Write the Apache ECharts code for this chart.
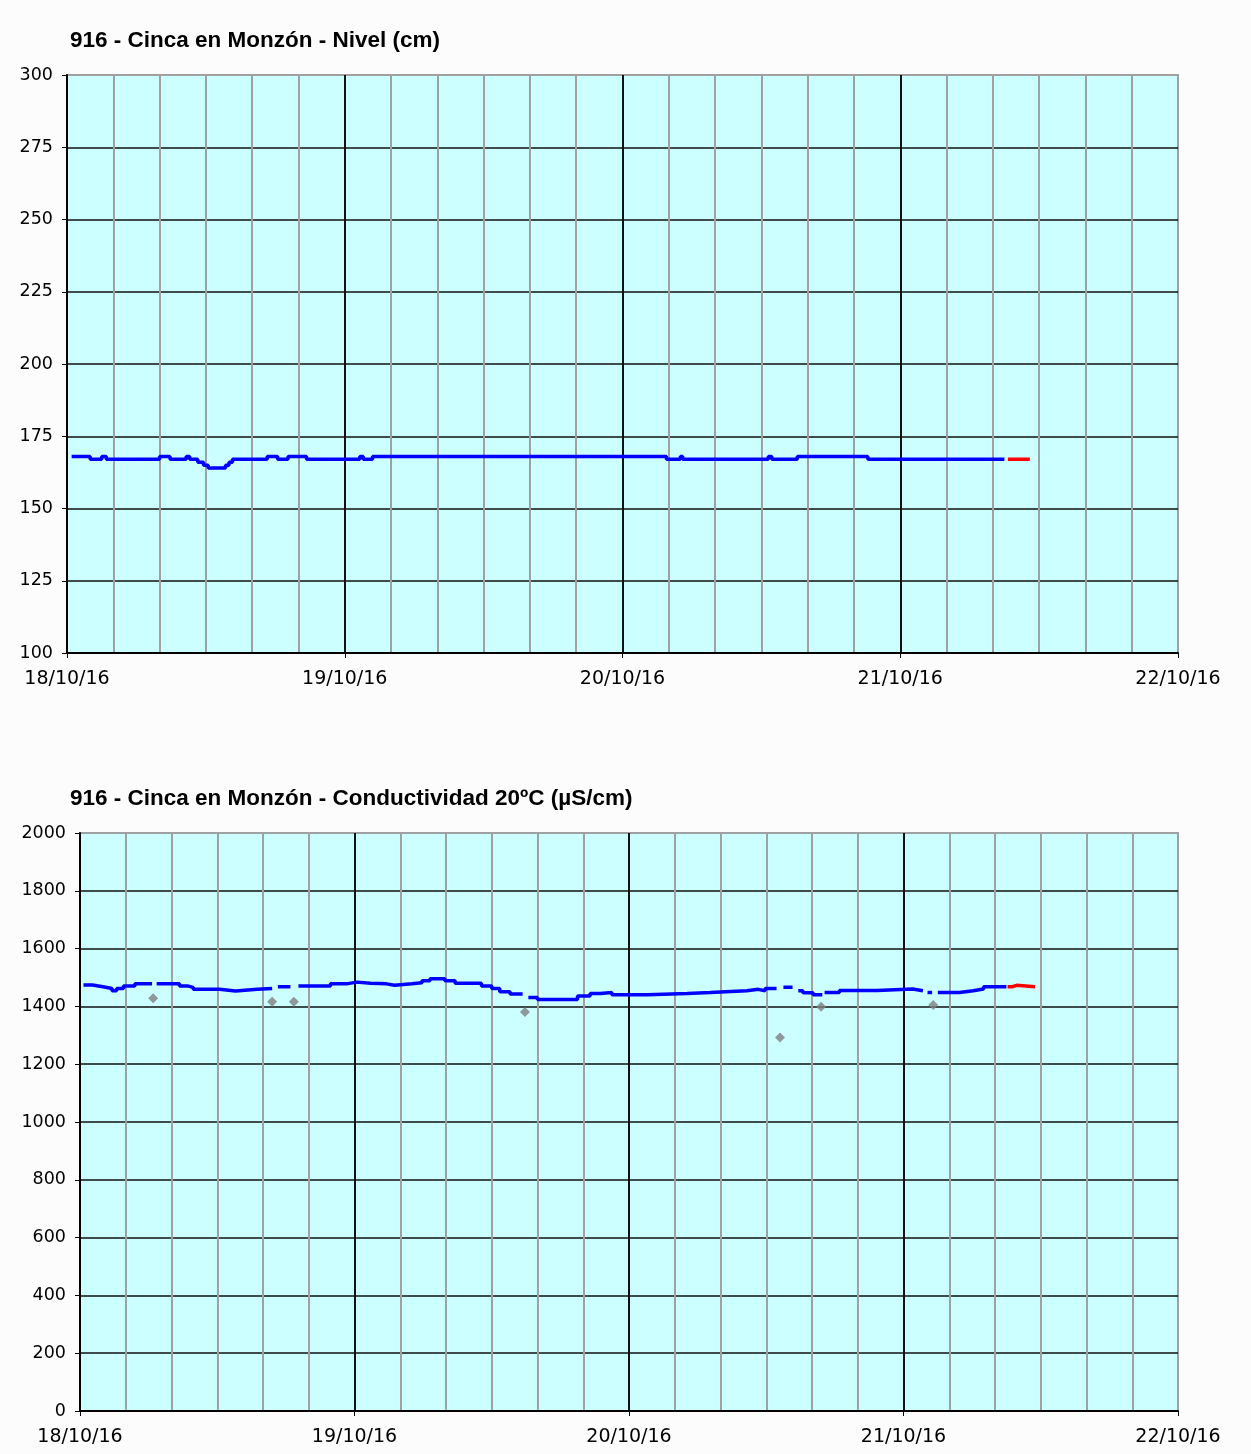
<!DOCTYPE html>
<html>
<head>
<meta charset="utf-8">
<script src="https://cdn.jsdelivr.net/npm/echarts@6/dist/echarts.min.js"></script>
<style>
  html, body { margin: 0; padding: 0; background: #fcfcfc; }
  #chart { width: 1251px; height: 1454px; }
</style>
</head>
<body>
<div id="chart"></div>
<script>
// x is hours since 18/10/16 00:00
var dayLabels = ['18/10/16', '19/10/16', '20/10/16', '21/10/16', '22/10/16'];

// Nivel (cm): value holds from each hour until the next one
var nivelHours  = [0.4, 2.0, 3.0, 3.4, 8.0, 8.9, 10.3, 10.6, 11.3, 11.8, 12.2, 13.7, 14.0, 14.3,
                   17.3, 18.2, 19.1, 20.7, 25.3, 25.6, 26.4, 51.8, 53.0, 53.2, 60.6, 60.9, 63.1, 69.2, 81.0];
var nivelValues = [168, 167, 168, 167, 168, 167, 168, 167, 166, 165, 164, 165, 166, 167,
                   168, 167, 168, 167, 168, 167, 168, 167, 168, 167, 168, 167, 168, 167, 167];
var nivelPredHours  = [81.3, 83.2];
var nivelPredValues = [167, 167];

// Conductividad 20ºC (µS/cm): null = no valid data
var condHours  = [0.3, 1.1, 2.0, 2.8, 3.2, 3.8, 4.8, 6.3, 6.7, 8.7, 9.4, 9.9, 12.2, 13.6, 15.5, 16.8,
                  17.3, 18.4, 19.1, 21.9, 23.3, 24.2, 25.4, 26.8, 27.5, 29.0, 29.9, 30.6, 31.9, 32.8,
                  35.1, 36.0, 36.7, 37.6, 38.7, 39.2, 40.0, 43.5, 44.6, 45.5, 46.5, 49.6, 53.1, 55.1,
                  58.3, 59.3, 59.9, 60.9, 61.5, 62.3, 62.8, 63.2, 64.1, 64.9, 65.1, 66.4, 69.7, 72.8,
                  73.7, 74.1, 74.5, 75.0, 76.9, 78.1, 79.0, 81.0];
var condValues = [1474, 1468, 1462, 1454, 1462, 1471, 1478, null, 1478, 1471, 1466, 1459, 1453, 1459, 1462, null,
                  1468, null, 1471, 1478, 1484, 1480, 1478, 1473, 1478, 1482, 1489, 1496, 1489, 1480,
                  1471, 1462, 1451, 1443, null, 1431, 1424, 1436, 1445, 1448, 1440, 1445, 1448, 1454,
                  1459, 1454, 1462, null, 1466, null, 1454, 1447, 1440, null, 1448, 1455, 1460, 1454,
                  null, 1448, null, 1448, 1454, 1460, 1468, 1468];
var condPredHours  = [81.1, 81.5, 81.9, 83.5];
var condPredValues = [1468, 1473, 1468, 1468];
var condFlagHours  = [6.4, 16.8, 18.7, 38.9, 61.2, 64.8, 74.6];
var condFlagValues = [1428, 1416, 1416, 1381, 1292, 1399, 1405];

function pairs(xs, ys) {
  var out = [];
  for (var i = 0; i < xs.length; i++) out.push([xs[i], ys[i]]);
  return out;
}

var gridLineColors = ['#111', '#a0a0a0', '#a0a0a0', '#a0a0a0', '#a0a0a0', '#a0a0a0'];

function hourAxis(g) {
  return {
    gridIndex: g, type: 'value', min: 0, max: 96, interval: 4,
    axisLine: { show: false }, axisTick: { show: false }, axisLabel: { show: false },
    splitLine: { show: true, showMaxLine: false, lineStyle: { color: gridLineColors, width: 2 } }
  };
}
function dayAxis(g) {
  return {
    gridIndex: g, type: 'value', min: 0, max: 96, interval: 24, position: 'bottom',
    axisLine: { show: true, onZero: false, lineStyle: { color: '#000', width: 2 } },
    axisTick: { show: true, length: 5, lineStyle: { color: '#000', width: 1 } },
    axisLabel: {
      margin: 17, fontFamily: 'DejaVu Sans', fontSize: 19, color: '#000',
      formatter: function (v) { return dayLabels[v / 24]; }
    },
    splitLine: { show: false }
  };
}
function levelAxis(g, min, max, step) {
  return {
    gridIndex: g, type: 'value', min: min, max: max, interval: step,
    axisLine: { show: true, lineStyle: { color: '#000', width: 2 } },
    axisTick: { show: true, length: 5, lineStyle: { color: '#000', width: 1 } },
    axisLabel: {
      margin: 14, fontFamily: 'DejaVu Sans', fontSize: 17.5, color: '#000',
      formatter: function (v) { return String(v); }
    },
    splitLine: { show: true, showMinLine: false, showMaxLine: false, lineStyle: { color: '#111', width: 1.5 } }
  };
}
function stepLine(x, y, data, color) {
  return {
    type: 'line', xAxisIndex: x, yAxisIndex: y, data: data, step: 'end',
    showSymbol: false, connectNulls: false, animation: false,
    lineStyle: { color: color, width: 3.5 }, itemStyle: { color: color }
  };
}

var chart = echarts.init(document.getElementById('chart'));
var titleStyle = { fontFamily: 'Liberation Sans', fontWeight: 'bold', fontSize: 22.5, color: '#000' };
chart.setOption({
  backgroundColor: '#fcfcfc',
  animation: false,
  title: [
    { text: '916 - Cinca en Monzón - Nivel (cm)', left: 70, top: 29, padding: 0, textStyle: titleStyle },
    { text: '916 - Cinca en Monzón - Conductividad 20ºC (µS/cm)', left: 70, top: 787, padding: 0, textStyle: titleStyle }
  ],
  grid: [
    { left: 67, top: 75, width: 1111, height: 578, show: true, backgroundColor: '#ccffff', borderColor: '#a0a0a0', borderWidth: 2 },
    { left: 80, top: 833, width: 1098, height: 578, show: true, backgroundColor: '#ccffff', borderColor: '#a0a0a0', borderWidth: 2 }
  ],
  xAxis: [hourAxis(0), dayAxis(0), hourAxis(1), dayAxis(1)],
  yAxis: [levelAxis(0, 100, 300, 25), levelAxis(1, 0, 2000, 200)],
  series: [
    stepLine(0, 0, pairs(nivelHours, nivelValues), '#0000ff'),
    stepLine(0, 0, pairs(nivelPredHours, nivelPredValues), '#ff0000'),
    stepLine(2, 1, pairs(condHours, condValues), '#0000ff'),
    stepLine(2, 1, pairs(condPredHours, condPredValues), '#ff0000'),
    {
      type: 'scatter', xAxisIndex: 2, yAxisIndex: 1, data: pairs(condFlagHours, condFlagValues),
      symbol: 'diamond', symbolSize: 10, itemStyle: { color: '#808080' }, animation: false
    }
  ]
});
</script>
</body>
</html>
